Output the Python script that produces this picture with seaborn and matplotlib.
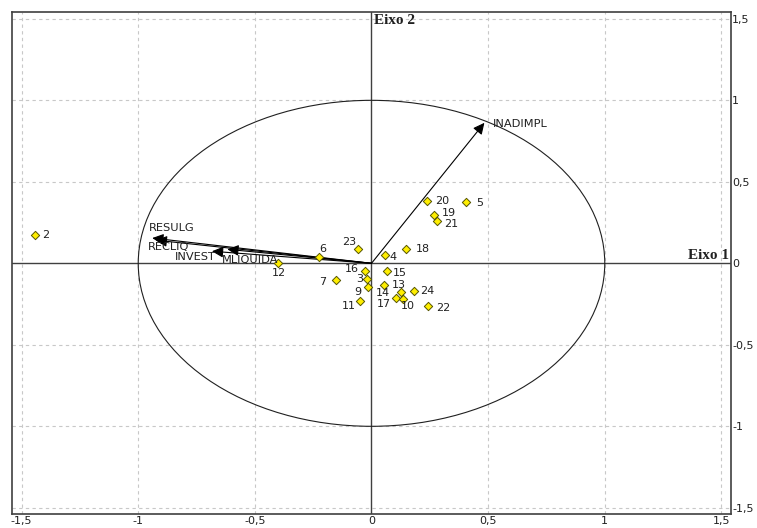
import matplotlib
matplotlib.use("Agg")
import matplotlib.pyplot as plt
from matplotlib.patches import Ellipse
import seaborn as sns
import pandas as pd

# ---- data ----
obs_ids = ["2", "6", "23", "12", "16", "3", "7", "9", "11", "4", "18", "15",
           "13", "14", "24", "17", "10", "22", "20", "5", "19", "21"]
obs_x = [-1.444, -0.227, -0.060, -0.399, -0.028, -0.018, -0.152, -0.014, -0.048,
         0.056, 0.146, 0.067, 0.052, 0.127, 0.181, 0.105, 0.136, 0.244,
         0.238, 0.407, 0.270, 0.281]
obs_y = [0.176, 0.039, 0.086, 0.002, -0.049, -0.094, -0.104, -0.143, -0.234,
         0.053, 0.086, -0.045, -0.133, -0.174, -0.168, -0.215, -0.219, -0.260,
         0.383, 0.375, 0.295, 0.262]

var_names = ["RESULG", "RECLIQ", "INVEST", "MLIQUIDA", "INADIMPL"]
var_x = [-0.94, -0.925, -0.684, -0.618, 0.484]
var_y = [0.155, 0.142, 0.074, 0.086, 0.862]

tick_vals = [-1.5, -1, -0.5, 0, 0.5, 1, 1.5]
tick_labels = ["-1,5", "-1", "-0,5", "0", "0,5", "1", "1,5"]

# ---- label placement (pixel offsets, alignment) ----
obs_off = {
    "2": (7, 0, "left"), "6": (1, 8, "left"), "23": (-1, 7, "right"),
    "12": (0, -10, "center"), "16": (-6, 2, "right"), "3": (-4, 0, "right"),
    "7": (-10, -2, "right"), "9": (-7, -5, "right"), "11": (-4, -5, "right"),
    "4": (5, -2, "left"), "18": (10, 0, "left"), "15": (6, -2, "left"),
    "13": (8, 0, "left"), "14": (-11, -1, "right"), "24": (6, 0, "left"),
    "17": (-5, -6, "right"), "10": (-2, -7, "left"), "22": (8, -2, "left"),
    "20": (8, 0, "left"), "5": (10, -1, "left"), "19": (7, 2, "left"),
    "21": (7, -3, "left"),
}
var_off = {
    "RESULG": (-3, 10, "left"), "RECLIQ": (-8, -7, "left"),
    "INVEST": (4, -6, "right"), "MLIQUIDA": (-5, -11, "left"),
    "INADIMPL": (8, -1, "left"),
}

sns.set_style("white")
plt.rcParams["font.family"] = ["DejaVu Sans"]

fig = plt.figure(figsize=(7.57, 5.28), dpi=100)
ax = fig.add_axes([0.0162, 0.0259, 0.9653 - 0.0162, 0.9767 - 0.0259])

lim = 1.54
ax.set_xlim(-lim, lim)
ax.set_ylim(-lim, lim)

# grid
for v in tick_vals:
    if v != 0:
        ax.axvline(v, color="#c8c8c8", lw=0.8, ls=(0, (3, 3)), zorder=0)
        ax.axhline(v, color="#c8c8c8", lw=0.8, ls=(0, (3, 3)), zorder=0)
ax.axvline(0, color="#404040", lw=1.0, zorder=1)
ax.axhline(0, color="#404040", lw=1.0, zorder=1)

# unit circle
ax.add_patch(Ellipse((0, 0), 2, 2, fill=False, ec="#202020", lw=0.8, zorder=1))

# vectors
for name, x, y in zip(var_names, var_x, var_y):
    ax.annotate("", xy=(x, y), xytext=(0, 0),
                arrowprops=dict(arrowstyle="-|>,head_length=0.45,head_width=0.22",
                                color="black", lw=0.8,
                                mutation_scale=15, shrinkA=0, shrinkB=0),
                zorder=2)
    dx, dy, ha = var_off[name]
    ax.annotate(name, xy=(x, y), xytext=(dx, dy), textcoords="offset pixels",
                ha=ha, va="center", fontsize=8.2, color="#202020", zorder=4)

# observations
df = pd.DataFrame({"x": obs_x, "y": obs_y, "id": obs_ids})
sns.scatterplot(data=df, x="x", y="y", marker="D", s=18, color="#ffee00",
                edgecolor="#555500", linewidth=0.7, ax=ax, zorder=3, legend=False)
for i, x, y in zip(obs_ids, obs_x, obs_y):
    dx, dy, ha = obs_off[i]
    ax.annotate(i, xy=(x, y), xytext=(dx, dy), textcoords="offset pixels",
                ha=ha, va="center", fontsize=8, color="#202020", zorder=4)

# axis titles
ax.text(0.012, 1.49, "Eixo 2", ha="left", va="center", fontsize=11,
        fontweight="bold", family="Liberation Serif", color="#202020")
ax.text(1.535, 0.006, "Eixo 1", ha="right", va="bottom", fontsize=11,
        fontweight="bold", family="Liberation Serif", color="#202020")

# ticks
ax.set_xticks(tick_vals)
ax.set_xticklabels(tick_labels)
ax.set_yticks(tick_vals)
ax.set_yticklabels(tick_labels)
ax.yaxis.tick_right()
ax.tick_params(axis="both", length=0, labelsize=8, colors="#202020", pad=1)
ax.set_xlabel("")
ax.set_ylabel("")
for s in ax.spines.values():
    s.set_visible(True)
    s.set_color("#404040")
    s.set_linewidth(1.2)

fig.savefig("out.png", dpi=100)
